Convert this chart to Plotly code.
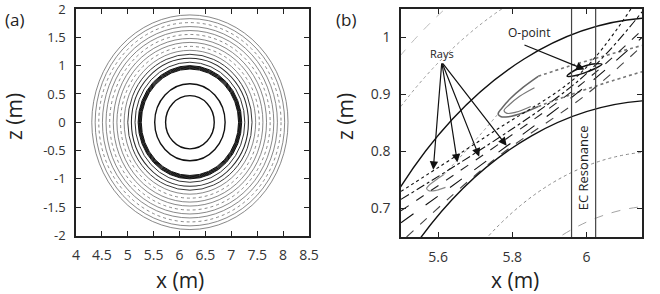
import plotly.graph_objects as go

# ---------------- data ----------------
# panel (a): flux-surface rings centred on the magnetic axis
axis_x, axis_z = 6.2, 0.0
a_radius = [1.895, 1.83, 1.76, 1.69, 1.62, 1.55, 1.48, 1.41, 1.34, 1.27, 1.20, 1.13, 1.06,
            1.0, 0.988, 0.976, 0.964, 0.952, 0.94, 0.68, 0.47]
a_dash = ['solid', 'solid', 'dot', 'solid', 'solid', 'dot', 'solid', 'solid', 'dot', 'solid',
          'solid', 'solid', 'solid', 'solid', 'solid', 'solid', 'solid', 'solid', 'solid',
          'solid', 'solid']
a_color = ['#6a6a6a'] * 10 + ['#3a3a3a', '#2a2a2a', '#333'] + ['#111'] * 6 + ['#111', '#111']
a_width = [0.8] * 10 + [1.0, 1.1, 1.0] + [1.0] * 6 + [1.4, 1.4]
a_xticks = [4, 4.5, 5, 5.5, 6, 6.5, 7, 7.5, 8, 8.5]
a_xlabels = ['4', '4.5', '5', '5.5', '6', '6.5', '7', '7.5', '8', '8.5']
a_zticks = [-2, -1.5, -1, -0.5, 0, 0.5, 1, 1.5, 2]
a_zlabels = ['-2', '-1.5', '-1', '-0.5', '0', '0.5', '1', '1.5', '2']

# panel (b): zoom on the island region
b_surf_a = [1.25, 1.17, 1.10, 1.0, 0.945, 0.80, 0.705]
b_surf_b = [1.29, 1.21, 1.14, 1.035, 0.89, 0.80, 0.705]
b_surf_dash = ['dot', 'dash', 'dot', 'solid', 'solid', 'dot', 'dash']
b_surf_color = ['#999', '#aaa', '#999', '#111', '#111', '#888', '#999']
b_surf_width = [1.0, 0.8, 1.0, 1.4, 1.4, 1.0, 0.9]

# island curves
cres_x = [5.87, 5.83, 5.795, 5.772, 5.762, 5.77, 5.79, 5.83, 5.87]
cres_z = [0.932, 0.913, 0.893, 0.876, 0.866, 0.861, 0.861, 0.868, 0.879]
cres_in_x = [5.86, 5.82, 5.792, 5.778, 5.786, 5.81, 5.85]
cres_in_z = [0.912, 0.897, 0.882, 0.872, 0.867, 0.869, 0.879]
sep_up_x = [5.87, 5.95, 6.05, 6.15]
sep_up_z = [0.932, 0.949, 0.968, 0.986]
sep_lo_x = [5.87, 5.95, 6.05, 6.15]
sep_lo_z = [0.879, 0.898, 0.92, 0.94]
small_x = [5.615, 5.592, 5.576, 5.569, 5.576, 5.596, 5.62]
small_z = [0.759, 0.749, 0.741, 0.735, 0.731, 0.732, 0.737]
link_x = [5.615, 5.69, 5.762]
link_z = [0.759, 0.812, 0.866]
opoint_x = [5.948, 5.97, 6.0, 6.025, 6.042, 6.025, 5.995, 5.968, 5.948]
opoint_z = [0.932, 0.943, 0.951, 0.954, 0.953, 0.946, 0.938, 0.933, 0.932]

# rays
ray_x = [[5.5, 5.75, 5.98, 6.12], [5.5, 5.98, 6.15], [5.5, 5.98, 6.15],
         [5.5, 5.98, 6.15], [5.515, 5.75, 6.0, 6.15]]
ray_z = [[0.73, 0.835, 0.935, 1.05], [0.716, 0.925, 1.045], [0.696, 0.915, 1.013],
         [0.675, 0.905, 1.0], [0.65, 0.785, 0.9, 0.985]]
ray_dash = ['dot', 'dashdot', 'dash', 'longdash', 'dash']
ray_color = ['#111', '#111', '#222', '#111', '#444']

ray_tip_x = [5.587, 5.652, 5.711, 5.785]
ray_tip_z = [0.768, 0.781, 0.791, 0.810]
rays_tail = (5.61, 0.957)
ec_res_x = [5.96, 6.025]
opoint_tip = (5.995, 0.944)
opoint_tail = (5.829, 0.988)

b_xticks = [5.6, 5.8, 6.0]
b_xlabels = ['5.6', '5.8', '6']
b_zticks = [0.7, 0.8, 0.9, 1.0]
b_zlabels = ['0.7', '0.8', '0.9', '1']

FONT = 'Open Sans'
TXT = '#222'

fig = go.Figure()

# anchor trace for panel a
fig.add_trace(go.Scatter(x=[axis_x], y=[axis_z], mode='markers', marker=dict(opacity=0),
                         hoverinfo='skip', showlegend=False, xaxis='x', yaxis='y'))

shapes = []
for r, d, c, w in zip(a_radius, a_dash, a_color, a_width):
    shapes.append(dict(type='circle', xref='x', yref='y', x0=axis_x - r, x1=axis_x + r,
                       y0=axis_z - r, y1=axis_z + r, line=dict(color=c, width=w, dash=d)))
for a, b, d, c, w in zip(b_surf_a, b_surf_b, b_surf_dash, b_surf_color, b_surf_width):
    shapes.append(dict(type='circle', xref='x2', yref='y2', x0=axis_x - a, x1=axis_x + a,
                       y0=axis_z - b, y1=axis_z + b, line=dict(color=c, width=w, dash=d)))
for xv in ec_res_x:
    shapes.append(dict(type='line', xref='x2', yref='y2 domain', x0=xv, x1=xv, y0=0, y1=1,
                       line=dict(color='#444', width=1.2)))


def add_b(x, z, color, width, dash='solid', shape='spline'):
    fig.add_trace(go.Scatter(x=x, y=z, mode='lines', xaxis='x2', yaxis='y2',
                             line=dict(color=color, width=width, dash=dash, shape=shape),
                             hoverinfo='skip', showlegend=False))


add_b(cres_x, cres_z, '#666', 1.5)
add_b(cres_in_x, cres_in_z, '#777', 1.2)
add_b(sep_up_x, sep_up_z, '#777', 1.6, 'dot')
add_b(sep_lo_x, sep_lo_z, '#777', 1.6, 'dot')
add_b(small_x, small_z, '#888', 1.2)
add_b(link_x, link_z, '#999', 1.0, 'dot')
for x, z, d, c in zip(ray_x, ray_z, ray_dash, ray_color):
    add_b(x, z, c, 1.1, d)
add_b(opoint_x, opoint_z, '#111', 1.5)

ann = []
for tx, tz in zip(ray_tip_x, ray_tip_z):
    ann.append(dict(x=tx, y=tz, xref='x2', yref='y2', ax=rays_tail[0], ay=rays_tail[1],
                    axref='x2', ayref='y2', text='', showarrow=True, arrowhead=2,
                    arrowsize=1.4, arrowwidth=1.2, arrowcolor='#111', standoff=0))
ann.append(dict(x=opoint_tip[0], y=opoint_tip[1], xref='x2', yref='y2', ax=opoint_tail[0],
                ay=opoint_tail[1], axref='x2', ayref='y2', text='', showarrow=True,
                arrowhead=2, arrowsize=1.4, arrowwidth=1.2, arrowcolor='#111', standoff=0))
ann.append(dict(x=5.61, y=0.972, xref='x2', yref='y2', text='Rays', showarrow=False,
                xanchor='center', yanchor='middle',
                font=dict(family=FONT, size=11, color=TXT)))
ann.append(dict(x=5.845, y=1.009, xref='x2', yref='y2', text='O-point', showarrow=False,
                xanchor='center', yanchor='middle',
                font=dict(family=FONT, size=12, color=TXT)))
ann.append(dict(x=5.993, y=0.772, xref='x2', yref='y2', text='EC Resonance', showarrow=False,
                xanchor='center', yanchor='middle', textangle=-90,
                font=dict(family=FONT, size=13, color=TXT)))
# panel letters and axis titles
for txt, px, py, ang, fs in [('(a)', 14, 20, 0, 17), ('(b)', 346, 20, 0, 17),
                             ('x (m)', 180, 280, 0, 21), ('x (m)', 515, 280, 0, 21),
                             ('z (m)', 14, 117, -90, 21), ('z (m)', 345, 117, -90, 21)]:
    ann.append(dict(x=px / 660, y=1 - py / 294, xref='paper', yref='paper', text=txt,
                    showarrow=False, textangle=ang, xanchor='center', yanchor='middle',
                    font=dict(family=FONT, size=fs, color=TXT)))

ax_common = dict(showline=True, linecolor='#222', linewidth=1.5, mirror='ticks',
                 ticks='inside', ticklen=5, tickwidth=1.2, tickcolor='#222',
                 showgrid=False, zeroline=False, ticklabeloverflow='allow', automargin=False)
tick_font = dict(family=FONT, size=14, color='#333')
tick_font_a_y = dict(family=FONT, size=13, color='#333')

fig.update_layout(
    width=660, height=294, margin=dict(l=0, r=0, t=0, b=0),
    paper_bgcolor='white', plot_bgcolor='white', showlegend=False,
    xaxis=dict(domain=[76 / 660, 309 / 660], range=[4, 8.5], tickvals=a_xticks,
               ticktext=a_xlabels, anchor='y', ticklabelstandoff=6, tickfont=tick_font,
               **ax_common),
    yaxis=dict(domain=[1 - 235.5 / 294, 1 - 9 / 294], range=[-2, 2], tickvals=a_zticks,
               ticktext=a_zlabels, anchor='x', ticklabelstandoff=6, tickfont=tick_font_a_y,
               **ax_common),
    xaxis2=dict(domain=[401 / 660, 642 / 660], range=[5.5, 6.15], tickvals=b_xticks,
                ticktext=b_xlabels, anchor='y2', ticklabelstandoff=6, tickfont=tick_font,
                **ax_common),
    yaxis2=dict(domain=[1 - 237 / 294, 1 - 9 / 294], range=[0.65, 1.05], tickvals=b_zticks,
                ticktext=b_zlabels, anchor='x2', ticklabelstandoff=6, tickfont=tick_font,
                **ax_common),
    shapes=shapes, annotations=ann,
)

fig.write_html('out.html')
